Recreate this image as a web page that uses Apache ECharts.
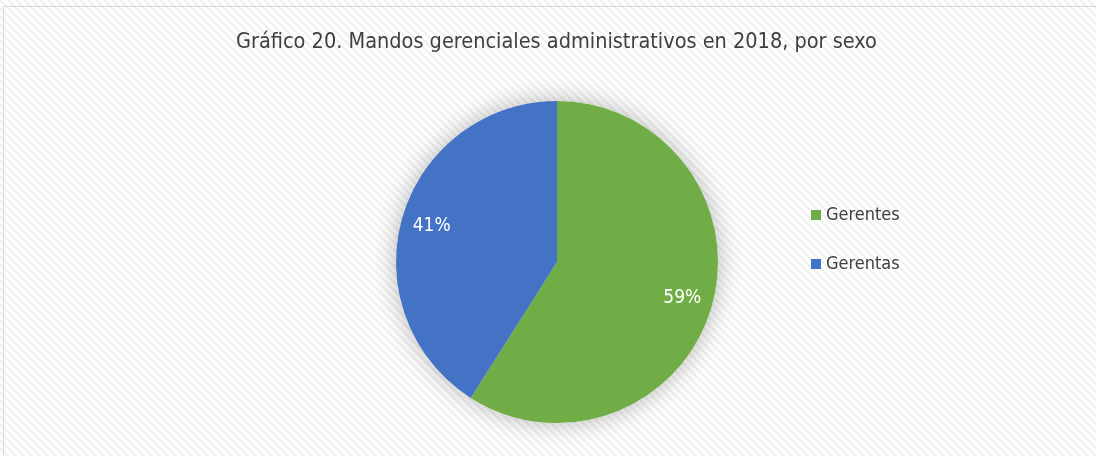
<!DOCTYPE html>
<html>
<head>
<meta charset="utf-8">
<script src="https://cdn.jsdelivr.net/npm/echarts@6/dist/echarts.min.js"></script>
<style>
  html, body { margin: 0; padding: 0; background: #fff; }
  #main { width: 1096px; height: 456px; }
</style>
</head>
<body>
<div id="main"></div>
<script>
    // datos del grafico
    var titulo = 'Gráfico 20. Mandos gerenciales administrativos en 2018, por sexo';
    var categorias = ['Gerentes', 'Gerentas'];
    var valores = [59, 41];
    var colores = ['#70AD47', '#4472C4'];

    var fuente = '"DejaVu Sans Condensed", "Noto Sans", sans-serif';

    // fondo rayado
    function patron() {
        var c = document.createElement('canvas');
        c.width = 8;
        c.height = 8;
        var ctx = c.getContext('2d');
        ctx.fillStyle = '#ffffff';
        ctx.fillRect(0, 0, 8, 8);
        ctx.strokeStyle = '#f1f1f1';
        ctx.lineWidth = 2.5;
        for (var k = -8; k <= 16; k += 8) {
            ctx.beginPath();
            ctx.moveTo(k, 0);
            ctx.lineTo(k + 8, 8);
            ctx.stroke();
        }
        return c;
    }

    var datos = categorias.map(function (n, i) {
        return { name: n, value: valores[i], itemStyle: { color: colores[i] } };
    });

    var centro = [557, 262];
    var radio = 161;

    var chart = echarts.init(document.getElementById('main'));
    chart.setOption({
        backgroundColor: { image: patron(), repeat: 'repeat' },
        animation: false,
        title: {
            text: titulo,
            left: 231,
            top: 26,
            textStyle: {
                fontFamily: fuente,
                fontSize: 21.5,
                fontWeight: 'normal',
                color: '#404040'
            }
        },
        legend: {
            orient: 'vertical',
            left: 806,
            top: 201,
            itemWidth: 10,
            itemHeight: 10,
            itemGap: 31,
            icon: 'rect',
            data: categorias.map(function (n, i) {
                return { name: n, itemStyle: { color: colores[i] } };
            }),
            textStyle: {
                fontFamily: fuente,
                fontSize: 18,
                color: '#404040'
            }
        },
        graphic: [{
            type: 'rect',
            shape: { x: 3.5, y: 6.5, width: 1100, height: 460 },
            style: { fill: 'none', stroke: '#d9d9d9', lineWidth: 1 },
            silent: true
        }],
        series: [
            {
                // sombra del circulo completo
                type: 'pie',
                center: centro,
                radius: [0, radio],
                silent: true,
                label: { show: false },
                labelLine: { show: false },
                itemStyle: {
                    color: '#ffffff',
                    shadowBlur: 24,
                    shadowColor: 'rgba(0,0,0,0.28)'
                },
                emphasis: { disabled: true },
                data: valores.map(function (v) { return { value: v }; })
            },
            {
                type: 'pie',
                center: centro,
                radius: [0, radio],
                startAngle: 90,
                clockwise: true,
                label: { show: false },
                labelLine: { show: false },
                emphasis: { disabled: true },
                data: datos
            },
            {
                // capa transparente solo para las etiquetas
                type: 'pie',
                center: centro,
                radius: [94, radio],
                startAngle: 90,
                clockwise: true,
                silent: true,
                itemStyle: { color: 'rgba(0,0,0,0)' },
                label: {
                    show: true,
                    position: 'inside',
                    formatter: '{c}%',
                    fontFamily: fuente,
                    fontSize: 19,
                    color: '#ffffff'
                },
                labelLine: { show: false },
                emphasis: { disabled: true },
                data: categorias.map(function (n, i) {
                    return { name: n, value: valores[i] };
                })
            }
        ]
    });
</script>
</body>
</html>
